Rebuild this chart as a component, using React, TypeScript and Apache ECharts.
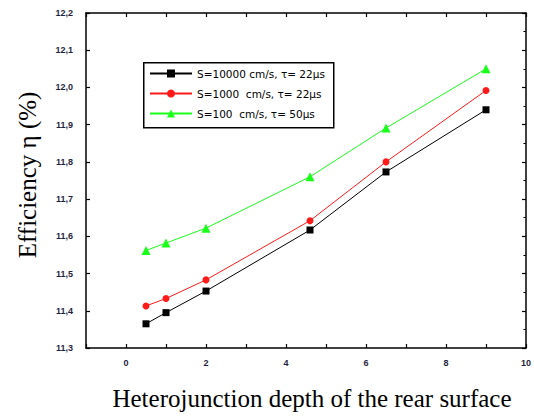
import React, { useEffect, useRef } from "react";
import * as echarts from "echarts";

const depths = [0.5, 1, 2, 4.6, 6.5, 9];
const seriesNames = [
  "S=10000 cm/s, τ= 22μs",
  "S=1000  cm/s, τ= 22μs",
  "S=100  cm/s, τ= 50μs",
];
const effS10000 = [11.365, 11.395, 11.453, 11.617, 11.773, 11.94];
const effS1000 = [11.413, 11.433, 11.483, 11.642, 11.8, 11.992];
const effS100 = [11.562, 11.582, 11.622, 11.76, 11.891, 12.05];
const colors = ["#000000", "#ff1a1a", "#1aff1a"];
const symbols = ["rect", "circle", "triangle"];
const symbolSizes = [7, 7, 9];

export default function App() {
  const ref = useRef<HTMLDivElement>(null);
  useEffect(() => {
    if (!ref.current) return;
    const chart = echarts.init(ref.current, undefined, { renderer: "svg" });
    const values = [effS10000, effS1000, effS100];
    const tickLabel = {
      fontFamily: "Liberation Sans",
      fontSize: 9,
      fontWeight: "bold" as const,
      color: "#1f1f3f",
    };
    const axisLine = { show: true, onZero: false, lineStyle: { color: "#000", width: 1.5 } };
    const tick = { inside: true, length: 4, lineStyle: { color: "#000", width: 1.2 } };
    chart.setOption({
      animation: false,
      backgroundColor: "#fff",
      grid: { left: 86, right: 4, top: 13, bottom: 66 },
      graphic: [
        {
          type: "rect",
          left: 143,
          top: 62,
          z: 0,
          shape: { width: 190, height: 65 },
          style: { fill: "#fff", stroke: "#000", lineWidth: 1.5 },
        },
        {
          type: "text",
          x: 27,
          y: 175,
          rotation: Math.PI / 2,
          style: {
            text: "Efficiency η (%)",
            fontFamily: "Liberation Serif",
            fontSize: 25,
            fill: "#000",
            textAlign: "center",
            textVerticalAlign: "middle",
          },
        },
      ],
      legend: {
        orient: "vertical",
        left: 149,
        top: 68,
        padding: 0,
        itemGap: 9,
        itemWidth: 42,
        itemHeight: 10,
        z: 10,
        textStyle: { fontFamily: "DejaVu Sans", fontSize: 10.5, color: "#000" },
        data: seriesNames,
      },
      xAxis: [
        {
          type: "value",
          min: -1,
          max: 10,
          interval: 1,
          position: "bottom",
          name: "Heterojunction depth of the rear surface",
          nameLocation: "middle",
          nameGap: 38,
          nameTextStyle: { fontFamily: "Liberation Serif", fontSize: 25, color: "#000", padding: [0, 0, 0, 12] },
          axisLine,
          axisTick: tick,
          axisLabel: {
            ...tickLabel,
            margin: 10,
            formatter: (v: number) => (v >= 0 && v % 2 === 0 ? String(v) : ""),
          },
          splitLine: { show: false },
        },
        {
          type: "value",
          min: -1,
          max: 10,
          interval: 1,
          position: "top",
          axisLine,
          axisTick: tick,
          axisLabel: { show: false },
          splitLine: { show: false },
        },
      ],
      yAxis: [
        {
          type: "value",
          min: 11.3,
          max: 12.2,
          interval: 0.1,
          position: "left",
          axisLine,
          axisTick: tick,
          axisLabel: {
            ...tickLabel,
            margin: 13,
            formatter: (v: number) => v.toFixed(1).replace(".", ","),
          },
          splitLine: { show: false },
        },
        {
          type: "value",
          min: 11.3,
          max: 12.2,
          interval: 0.1,
          position: "right",
          axisLine,
          axisTick: tick,
          minorTick: { show: true, splitNumber: 2, length: 2.5, lineStyle: { color: "#000", width: 1 } },
          axisLabel: { show: false },
          splitLine: { show: false },
        },
      ],
      series: seriesNames.map((name, i) => ({
        name,
        type: "line",
        xAxisIndex: 0,
        yAxisIndex: 0,
        data: depths.map((d, j) => [d, values[i][j]]),
        symbol: symbols[i],
        symbolSize: symbolSizes[i],
        color: colors[i],
        lineStyle: { color: colors[i], width: 1 },
        itemStyle: { color: colors[i] },
      })),
    });
    return () => chart.dispose();
  }, []);
  return (
    <div
      ref={ref}
      style={{ position: "fixed", left: 0, top: 0, width: 534, height: 416 }}
    />
  );
}
